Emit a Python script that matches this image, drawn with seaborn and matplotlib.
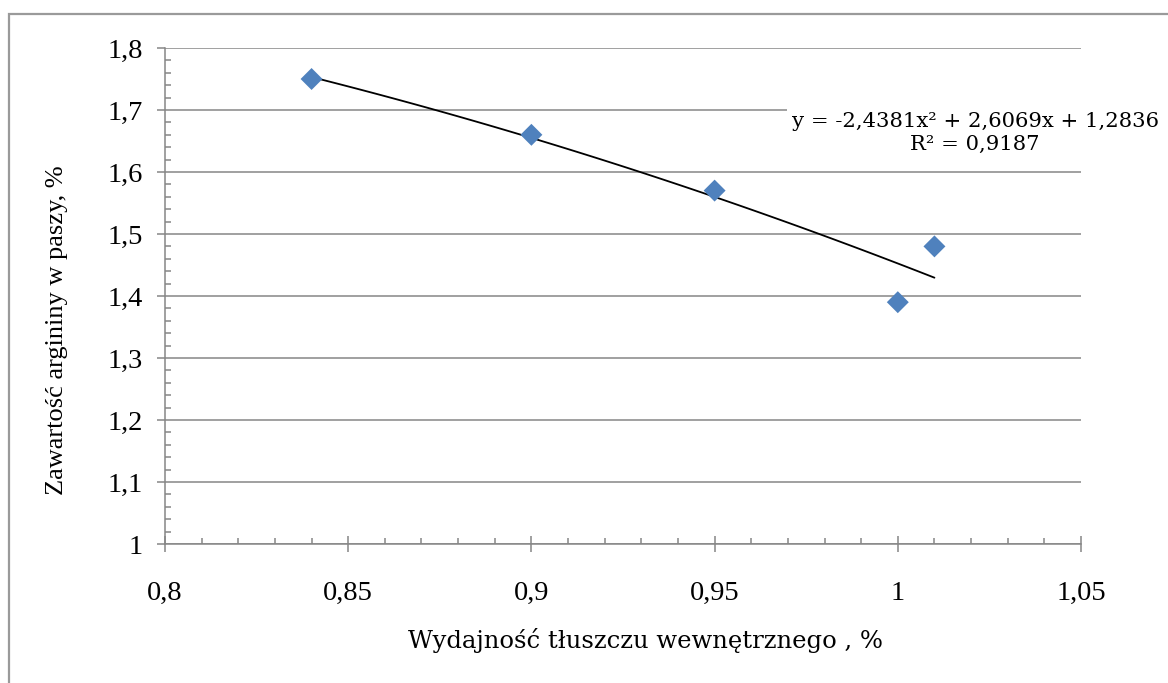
import numpy as np
import pandas as pd
import seaborn as sns
from matplotlib import pyplot as plt
from matplotlib.ticker import MultipleLocator, FuncFormatter
from matplotlib.patches import Rectangle

# data
fat_yield = [0.84, 0.90, 0.95, 1.00, 1.01]
arginine = [1.75, 1.66, 1.57, 1.39, 1.48]
eq_text = "y = -2,4381x\u00b2 + 2,6069x + 1,2836"
r2_text = "R\u00b2 = 0,9187"

df = pd.DataFrame({"x": fat_yield, "y": arginine})

sns.set_style("white")
plt.rcParams['font.family'] = ['Liberation Serif', 'DejaVu Serif']
plt.rcParams['text.color'] = 'black'
plt.rcParams['axes.labelcolor'] = 'black'
plt.rcParams['xtick.labelcolor'] = 'black'
plt.rcParams['ytick.labelcolor'] = 'black'

grey = '#868686'
fig = plt.figure(figsize=(11.68, 6.83), dpi=100)
ax = fig.add_axes([165/1168, 1-544/683, (1081-165)/1168, (544-48)/683])

# outer chart border
fig.patches.append(Rectangle((9/1168, -0.1), 1.2, 1-14/683+0.1, transform=fig.transFigure,
                             fill=False, edgecolor='#9a9a9a', linewidth=1.6))

# quadratic trendline (Excel-like, limited to data range)
sns.regplot(data=df, x="x", y="y", order=2, ci=None, scatter=False, truncate=True,
            line_kws={"color": "black", "linewidth": 1.3}, ax=ax)
sns.scatterplot(data=df, x="x", y="y", marker="D", s=125, color='#4F81BD',
                edgecolor='none', zorder=5, ax=ax)

ax.set_xlim(0.8, 1.05)
ax.set_ylim(1.0, 1.8)
ax.xaxis.set_major_locator(MultipleLocator(0.05))
ax.xaxis.set_minor_locator(MultipleLocator(0.01))
ax.yaxis.set_major_locator(MultipleLocator(0.1))
ax.yaxis.set_minor_locator(MultipleLocator(0.02))

fmt = FuncFormatter(lambda v, p: ('%g' % round(v, 3)).replace('.', ','))
ax.xaxis.set_major_formatter(fmt)
ax.yaxis.set_major_formatter(fmt)

ax.grid(axis='y', which='major', color=grey, linewidth=1.1)
ax.set_axisbelow(True)
for s in ['top', 'right']:
    ax.spines[s].set_visible(False)
for s in ['left', 'bottom']:
    ax.spines[s].set_color(grey)
    ax.spines[s].set_linewidth(1.1)

ax.tick_params(which='both', bottom=True, left=True, top=False, right=False)
ax.tick_params(axis='y', which='major', direction='out', length=5.8, width=1.1, color=grey,
               labelsize=20.5, pad=10)
ax.tick_params(axis='y', which='minor', direction='in', length=4.3, width=1.1, color=grey)
ax.tick_params(axis='x', which='major', direction='inout', length=11.5, width=1.1, color=grey,
               labelsize=20.5, pad=21)
ax.tick_params(axis='x', which='minor', direction='in', length=4.3, width=1.1, color=grey)

ax.set_xlabel("Wydajność tłuszczu wewnętrznego , %", family=['DejaVu Serif'], fontsize=17.5)
ax.set_ylabel("Zawartość argininy w paszy, %", fontsize=19)
ax.xaxis.set_label_coords((645-165)/(1081-165), -(628-544)/(544-48))
ax.yaxis.set_label_coords(-(165-68)/(1081-165), (544-330)/(544-48))

ax.text((975-165)/(1081-165), (544-133)/(544-48), eq_text + "\n" + r2_text,
        transform=ax.transAxes, ha='center', va='center', family=['DejaVu Serif'],
        fontsize=15.2, linespacing=1.3, multialignment='center', clip_on=False,
        bbox=dict(facecolor='white', edgecolor='none', pad=3))

fig.savefig("out.png", dpi=100)
